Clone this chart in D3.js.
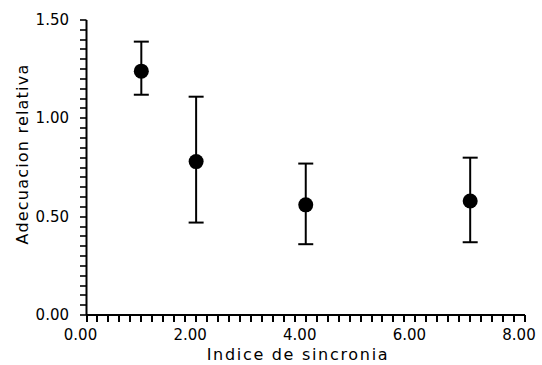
<!DOCTYPE html>
<html><head><meta charset="utf-8">
<script src="https://cdn.jsdelivr.net/npm/d3@7"></script>
<style>body{margin:0;background:#fff}svg text{font-family:"DejaVu Sans",sans-serif;fill:#000}</style>
</head><body><svg id="c" width="542" height="365"></svg>
<script>
const xVals = [1.0, 2.0, 4.0, 7.0];
const yVals = [1.24, 0.78, 0.56, 0.58];
const yHigh = [1.39, 1.11, 0.77, 0.80];
const yLow = [1.12, 0.47, 0.36, 0.37];
const xTicks = [0, 2, 4, 6, 8];
const yTicks = [0, 0.5, 1.0, 1.5];
const xTitle = "Indice de sincronia";
const yTitle = "Adecuacion relativa";

const svg = d3.select("#c");
const x = d3.scaleLinear().domain([0, 8]).range([86.5, 525]);
const y = d3.scaleLinear().domain([0, 1.5]).range([315, 20]);

const xMinor = d3.range(0, 41).map(i => i * 0.2);
const yMinor = d3.range(0, 31).map(i => i * 0.05);

const ax = svg.append("g").attr("stroke", "#000");
ax.selectAll("line.xt").data(xMinor).join("line").attr("class", "xt")
  .attr("x1", d => Math.round(x(d))).attr("x2", d => Math.round(x(d))).attr("y1", 315).attr("y2", 322)
  .attr("stroke-width", 2);
ax.selectAll("line.yt").data(yMinor).join("line").attr("class", "yt")
  .attr("x1", 80).attr("x2", x(0)).attr("y1", d => Math.round(y(d))).attr("y2", d => Math.round(y(d)))
  .attr("stroke-width", 1.6);
ax.append("line").attr("x1", x(0)).attr("x2", x(8)).attr("y1", y(0)).attr("y2", y(0)).attr("stroke-width", 2);
ax.append("line").attr("x1", x(0)).attr("x2", x(0)).attr("y1", y(0)).attr("y2", y(1.5)).attr("stroke-width", 2);

// tick labels
svg.append("g").selectAll("text").data(xTicks).join("text")
  .attr("x", d => x(d) - 6).attr("y", 340)
  .attr("text-anchor", "middle").attr("font-size", 15)
  .text(d => d.toFixed(2));
svg.append("g").selectAll("text").data(yTicks).join("text")
  .attr("x", 69).attr("y", d => y(d) + 5)
  .attr("text-anchor", "end").attr("font-size", 15)
  .text(d => d.toFixed(2));

// titles
svg.append("text").attr("x", 298).attr("y", 360).attr("text-anchor", "middle")
  .attr("font-size", 16).attr("letter-spacing", 1.7).text(xTitle);
svg.append("text").attr("transform", "translate(28,154) rotate(-90)").attr("text-anchor", "middle")
  .attr("font-size", 16).attr("letter-spacing", 1.2).text(yTitle);

// error bars
const g = svg.append("g");
xVals.forEach((xv, i) => {
  g.append("line").attr("x1", x(xv)).attr("x2", x(xv)).attr("y1", y(yHigh[i])).attr("y2", y(yLow[i]))
    .attr("stroke", "#000").attr("stroke-width", 2);
  [yHigh[i], yLow[i]].forEach(v => {
    g.append("line").attr("x1", x(xv) - 7.5).attr("x2", x(xv) + 7.5).attr("y1", y(v)).attr("y2", y(v))
      .attr("stroke", "#000").attr("stroke-width", 2);
  });
});
g.selectAll("circle").data(xVals).join("circle")
  .attr("cx", d => x(d)).attr("cy", (d, i) => y(yVals[i])).attr("r", 7.5).attr("fill", "#000");
</script></body></html>
